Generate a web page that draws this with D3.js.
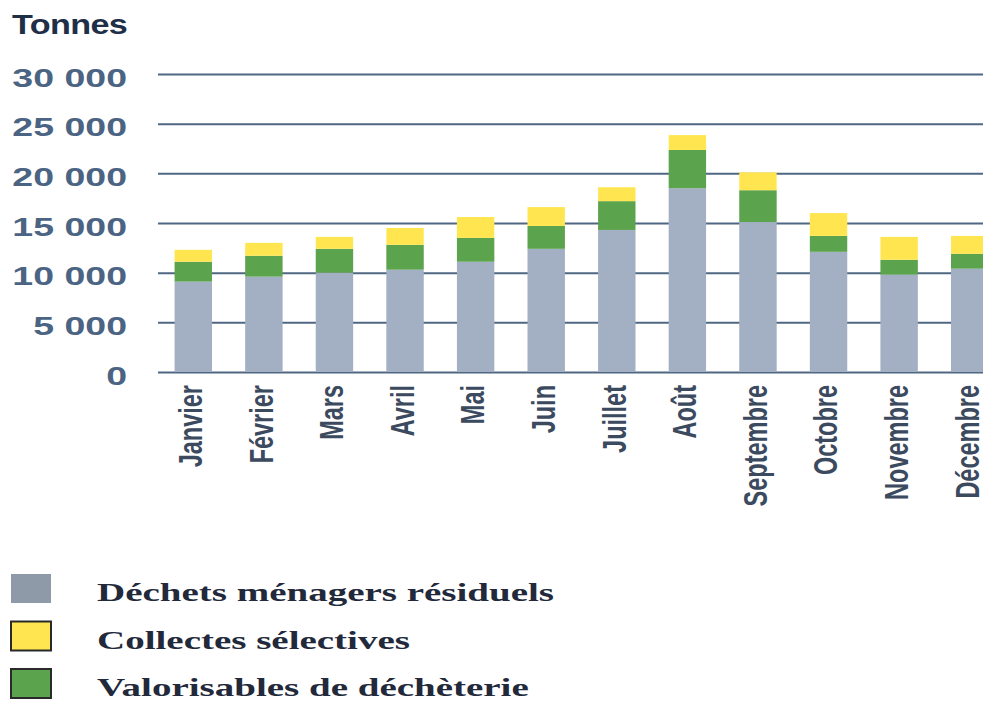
<!DOCTYPE html>
<html>
<head>
<meta charset="utf-8">
<script src="https://cdn.jsdelivr.net/npm/d3@7"></script>
<style>
  body { margin: 0; background: #fff; }
  svg { display: block; }
</style>
</head>
<body>
<script>
// tonnages mensuels
var months = ["Janvier", "Février", "Mars", "Avril", "Mai", "Juin", "Juillet", "Août", "Septembre", "Octobre", "Novembre", "Décembre"];
var residuels = [9100, 9600, 10000, 10300, 11100, 12400, 14300, 18500, 15100, 12100, 9800, 10400];
var valorisables = [2000, 2100, 2400, 2500, 2400, 2300, 2900, 3850, 3200, 1600, 1500, 1500];
var selectives = [1200, 1300, 1200, 1700, 2100, 1900, 1400, 1500, 1800, 2300, 2300, 1800];

var yTicks = [0, 5000, 10000, 15000, 20000, 25000, 30000];
var yTickLabels = ["0", "5 000", "10 000", "15 000", "20 000", "25 000", "30 000"];

var seriesNames = ["Déchets ménagers résiduels", "Collectes sélectives", "Valorisables de déchèterie"];

var width = 983, height = 701;
var left = 158;

var svg = d3.select("body")
    .append("svg")
    .attr("width", width)
    .attr("height", height);

var x = d3.scaleBand()
    .domain(months)
    .range([left, 1005])
    .paddingInner(0.47)
    .paddingOuter(0.235);

var y = d3.scaleLinear()
    .domain([0, 30000])
    .range([372, 74]);

// gridlines + y labels
var yAxis = svg.append("g")
    .attr("transform", "translate(" + left + ",0)")
    .call(d3.axisLeft(y)
        .tickValues(yTicks)
        .tickSize(-(width - left))
        .tickFormat(function(d, i) { return yTickLabels[i]; }));

yAxis.select(".domain").remove();
yAxis.selectAll("line")
    .attr("stroke", "#4f6782")
    .attr("stroke-width", 2);
yAxis.selectAll("text")
    .attr("x", null)
    .attr("dy", null)
    .attr("transform", "translate(-31,12) scale(1.5,1)")
    .attr("fill", "#4b6483")
    .style("font-family", "'Liberation Sans', Arial, sans-serif")
    .style("font-weight", "bold")
    .style("font-size", "25px");

svg.append("text")
    .attr("transform", "translate(12,34) scale(1.22,1)")
    .attr("fill", "#1f2f47")
    .style("font-family", "'Liberation Sans', Arial, sans-serif")
    .style("font-weight", "bold")
    .style("font-size", "28px")
    .style("letter-spacing", "-0.5px")
    .text("Tonnes");

// stacked bars
var rows = months.map(function(m, i) {
    return { month: m, residuels: residuels[i], valorisables: valorisables[i], selectives: selectives[i] };
});
var keys = ["residuels", "valorisables", "selectives"];
var colors = { residuels: "#a3afc2", valorisables: "#5ba34c", selectives: "#ffe650" };

var stacked = d3.stack().keys(keys)(rows);

svg.selectAll(".layer")
    .data(stacked)
    .enter()
    .append("g")
        .attr("class", "layer")
        .attr("fill", function(d) { return colors[d.key]; })
    .selectAll("rect")
    .data(function(d) { return d; })
    .enter()
    .append("rect")
        .attr("x", function(d) { return x(d.data.month); })
        .attr("y", function(d) { return y(d[1]); })
        .attr("width", x.bandwidth())
        .attr("height", function(d) { return y(d[0]) - y(d[1]); });

// month labels
svg.selectAll(".month")
    .data(months)
    .enter()
    .append("text")
        .attr("class", "month")
        .attr("transform", function(d) {
            return "translate(" + (x(d) + x.bandwidth() / 2 - 3) + ",385) rotate(-90) scale(1,1.4)";
        })
        .attr("dy", "0.36em")
        .attr("text-anchor", "end")
        .attr("fill", "#3b4a5e")
        .style("font-family", "'Liberation Sans', Arial, sans-serif")
        .style("font-weight", "bold")
        .style("font-size", "23.5px")
        .text(function(d) { return d; });

// legend
var legendColors = ["#8f9aa8", "#ffe650", "#5ba34c"];
var legendStroke = [null, "#2a2a2a", "#2a2a2a"];
var legend = svg.selectAll(".legend")
    .data(seriesNames)
    .enter()
    .append("g")
        .attr("class", "legend")
        .attr("transform", function(d, i) { return "translate(0," + (i * 47.5) + ")"; });

legend.append("rect")
    .attr("x", 11)
    .attr("y", 574)
    .attr("width", 40)
    .attr("height", 29)
    .attr("fill", function(d, i) { return legendColors[i]; })
    .attr("stroke", function(d, i) { return legendStroke[i]; })
    .attr("stroke-width", 2);

legend.append("text")
    .attr("transform", "translate(97,601) scale(1.56,1)")
    .attr("fill", "#22293a")
    .style("font-family", "'Liberation Serif', 'Times New Roman', serif")
    .style("font-weight", "bold")
    .style("font-size", "25px")
    .text(function(d) { return d; });
</script>
</body>
</html>
